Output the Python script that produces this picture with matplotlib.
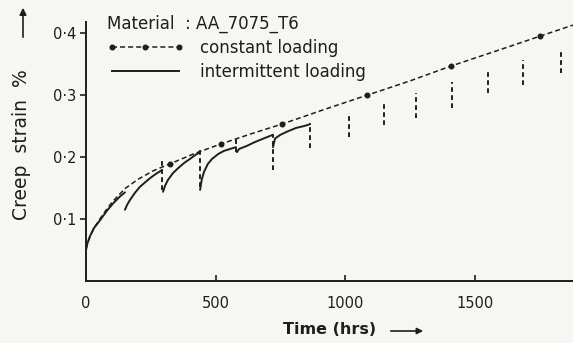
import numpy as np
import matplotlib.pyplot as plt
from matplotlib.lines import Line2D

plt.rcParams['font.family'] = ['DejaVu Sans']
plt.rcParams['lines.scale_dashes'] = False

INK = '#1e1e1e'
PAPER = '#f6f6f3'

# --- constant loading curve (hrs, creep strain %) ---
const_t = [0, 10, 20, 35, 50, 75, 100, 150, 200, 260, 323, 420, 519, 640, 754,
           920, 1085, 1250, 1408, 1580, 1750, 1878]
const_s = [0.052, 0.066, 0.076, 0.088, 0.098, 0.113, 0.127, 0.149, 0.164, 0.178,
           0.189, 0.206, 0.221, 0.238, 0.253, 0.277, 0.300, 0.323, 0.347, 0.371,
           0.395, 0.413]
dot_t = [323, 519, 754, 1085, 1408, 1750]

# --- intermittent loading: one list per loading period ---
seg_t = [
    [0, 5, 15, 30, 54, 80, 104, 130, 150],
    [150, 160, 170, 190, 208, 230, 247, 270, 293],
    [297, 305, 316, 335, 355, 380, 401, 420, 440],
    [440, 446, 455, 470, 486, 510, 532, 555, 578],
    [582, 590, 620, 650, 685, 721],
    [721, 729, 750, 775, 810, 840, 864],
]
seg_s = [
    [0.050, 0.060, 0.072, 0.085, 0.098, 0.113, 0.125, 0.136, 0.143],
    [0.115, 0.124, 0.131, 0.143, 0.152, 0.160, 0.166, 0.173, 0.179],
    [0.144, 0.154, 0.163, 0.174, 0.182, 0.191, 0.197, 0.203, 0.208],
    [0.147, 0.163, 0.176, 0.189, 0.197, 0.205, 0.210, 0.213, 0.216],
    [0.208, 0.213, 0.218, 0.224, 0.230, 0.236],
    [0.216, 0.230, 0.236, 0.241, 0.247, 0.250, 0.253],
]

# --- unloading marks (vertical dashes) ---
mark_t = [293, 440, 578, 721, 864, 1014, 1149, 1273, 1411, 1550, 1685, 1832]
mark_top = [0.198, 0.211, 0.232, 0.235, 0.255, 0.271, 0.287, 0.303, 0.321, 0.340, 0.356, 0.373]
mark_bot = [0.147, 0.152, 0.208, 0.179, 0.214, 0.232, 0.252, 0.263, 0.279, 0.303, 0.316, 0.335]

xticks = [0, 500, 1000, 1500]
xtick_labels = ['0', '500', '1000', '1500']
yticks = [0.1, 0.2, 0.3, 0.4]
ytick_labels = ['0·1', '0·2', '0·3', '0·4']

fig = plt.figure(figsize=(5.73, 3.43), dpi=100, facecolor=PAPER)
ax = fig.add_axes([86 / 573, 62 / 343, 487 / 573, 259 / 343])
ax.set_facecolor(PAPER)

dash_style = (0, (3.6, 2.2))
marks = [i for i, t in enumerate(const_t) if t in dot_t]
ax.plot(const_t, const_s, color=INK, lw=1.1, linestyle=dash_style,
        marker='o', markersize=3.3, markevery=marks)

for t, s in zip(seg_t, seg_s):
    ax.plot(t, s, color=INK, lw=1.4, solid_capstyle='round')

ax.vlines(mark_t, mark_bot, mark_top, colors=INK, lw=1.4, linestyles=[(0, (3.4, 2.4))])

ax.set_xlim(0, 1878)
ax.set_ylim(0, 0.418)
ax.set_xticks(xticks)
ax.set_xticklabels(xtick_labels)
ax.set_yticks(yticks)
ax.set_yticklabels(ytick_labels)

for side in ['top', 'right']:
    ax.spines[side].set_visible(False)
for side in ['left', 'bottom']:
    ax.spines[side].set_color(INK)
    ax.spines[side].set_linewidth(1.4)
ax.tick_params(axis='x', direction='in', length=4, width=1.2, pad=11,
               labelsize=10.5, colors=INK)
ax.tick_params(axis='y', direction='out', length=4, width=1.2, pad=3,
               labelsize=10.5, colors=INK)

handles = [
    Line2D([], [], color=INK, lw=1.1, linestyle=dash_style, marker='o', markersize=3.3),
    Line2D([], [], color=INK, lw=1.4),
]
leg = ax.legend(handles, ['constant loading', 'intermittent loading'],
                title='Material  : AA_7075_T6', alignment='left',
                loc='upper left', bbox_to_anchor=(0.043, 1.028),
                frameon=False, fontsize=12, title_fontsize=12,
                numpoints=3, handlelength=4.6, handletextpad=1.0,
                labelspacing=0.35, borderpad=0, borderaxespad=0)
leg.get_title().set_color(INK)
for txt in leg.get_texts():
    txt.set_color(INK)

fig.text(22 / 573, 1 - 145 / 343, 'Creep  strain  %', rotation=90,
         ha='center', va='center', fontsize=13.5, color=INK)
ax.annotate('', xy=(23, 338), xytext=(23, 303), xycoords='figure pixels',
            arrowprops=dict(arrowstyle='-|>', color=INK, lw=1.2, mutation_scale=10))

fig.text(330 / 573, 1 - 329 / 343, 'Time (hrs)', ha='center', va='center',
         fontsize=11.5, fontweight='bold', color=INK)
ax.annotate('', xy=(426, 12), xytext=(388, 12), xycoords='figure pixels',
            arrowprops=dict(arrowstyle='-|>', color=INK, lw=1.2, mutation_scale=9))

fig.savefig('out.png', dpi=100, facecolor=PAPER)
